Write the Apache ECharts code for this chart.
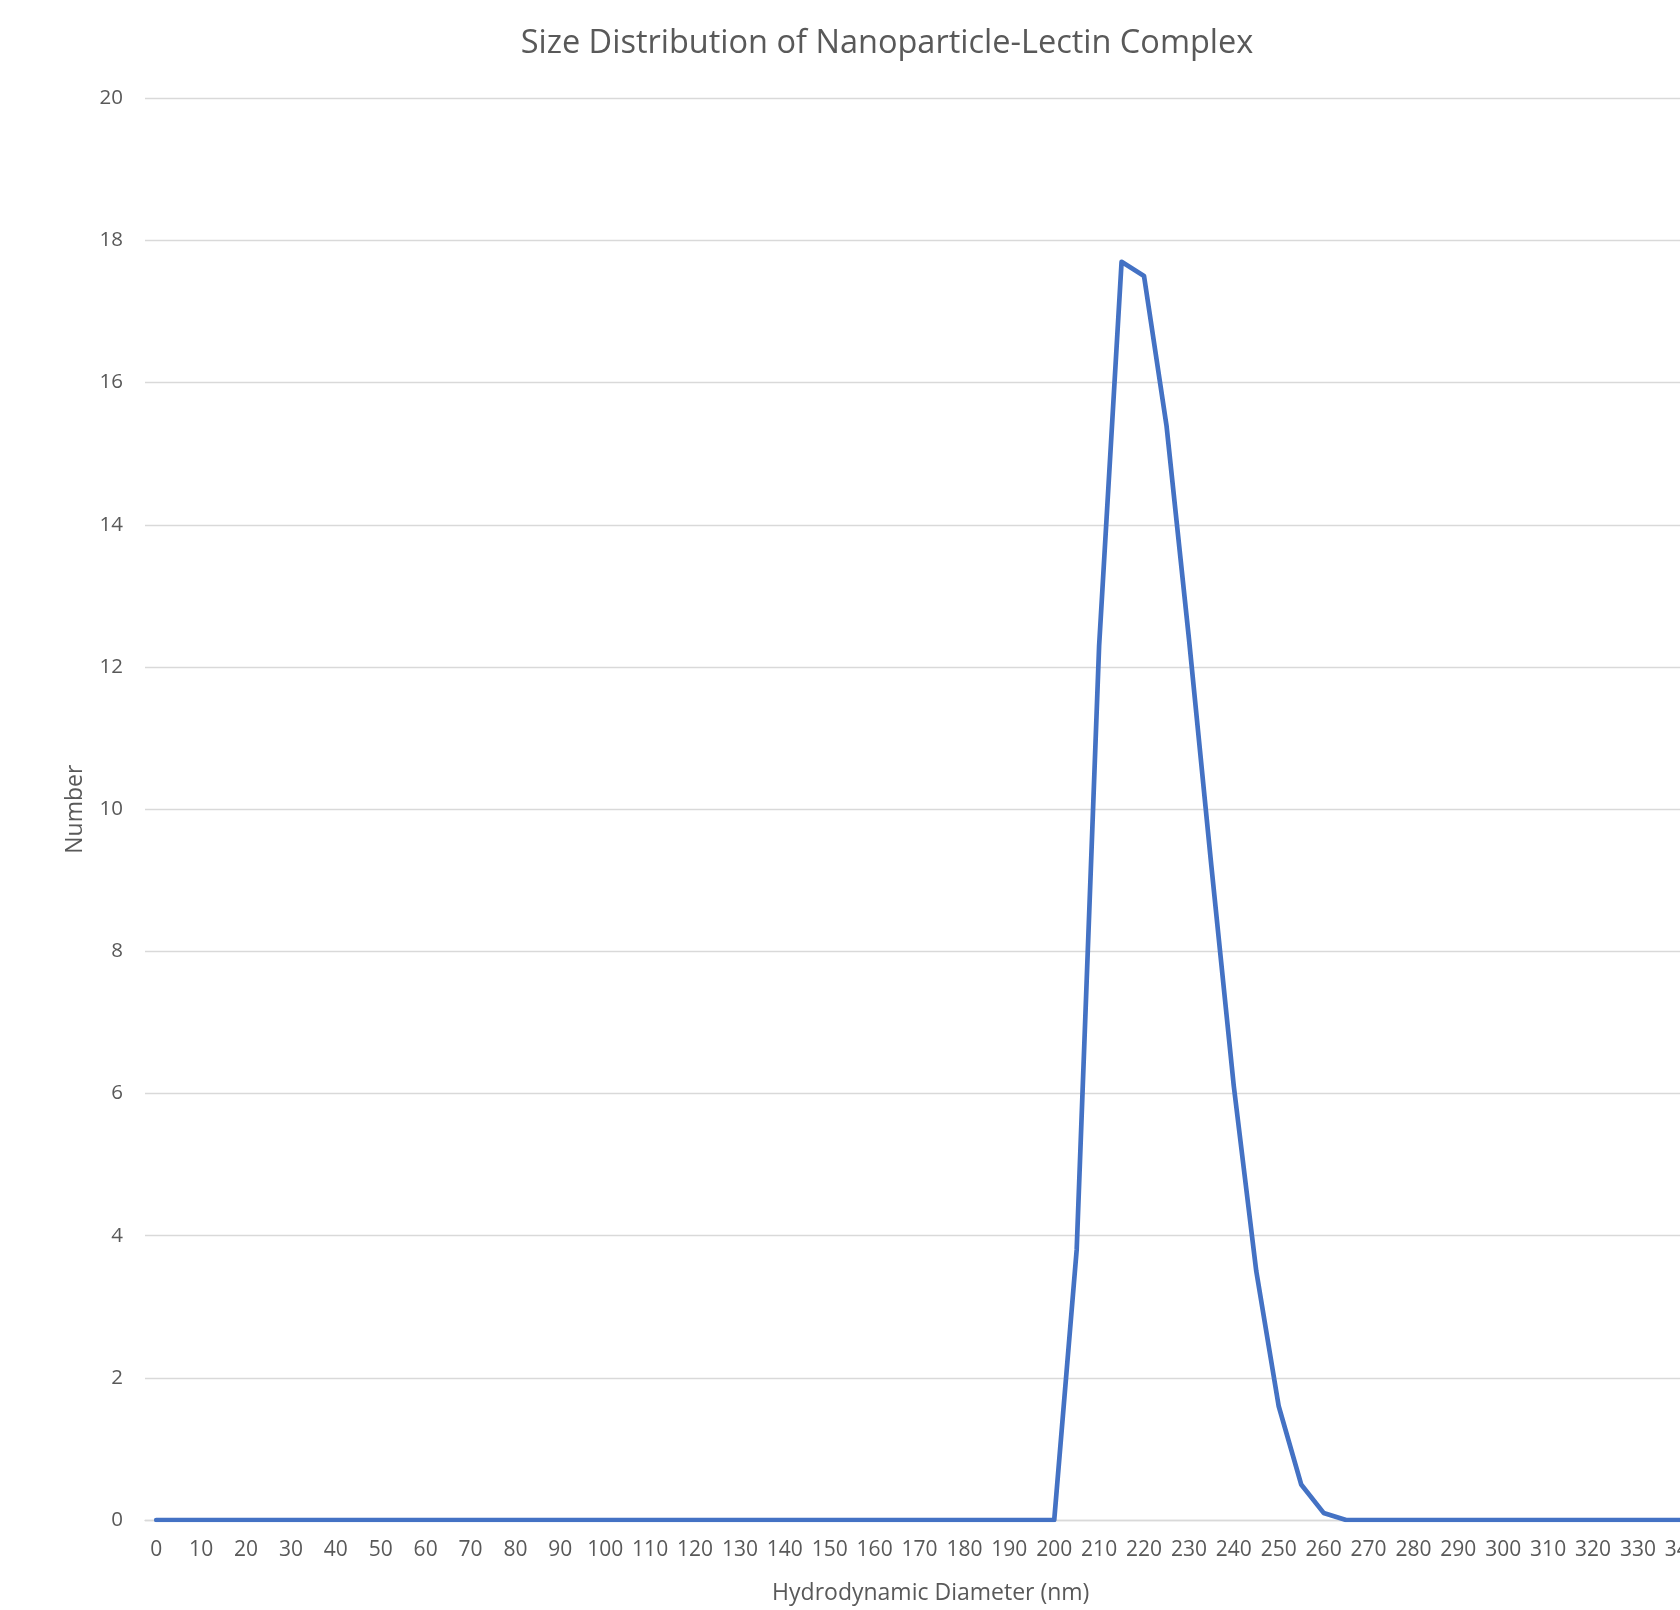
<!DOCTYPE html>
<html>
<head>
<meta charset="utf-8">
<script src="https://cdn.jsdelivr.net/npm/echarts@6/dist/echarts.min.js"></script>
<style>
html,body{margin:0;padding:0;background:#fff;overflow:hidden;width:1680px;height:1610px;}
#chart{width:1717px;height:1610px;}
</style>
</head>
<body>
<div id="chart"></div>
<script>
const titleText = 'Size Distribution of Nanoparticle-Lectin Complex';
const xAxisTitle = 'Hydrodynamic Diameter (nm)';
const yAxisTitle = 'Number';
const diameters = ['0','5','10','15','20','25','30','35','40','45','50','55','60','65','70','75','80','85','90','95',
  '100','105','110','115','120','125','130','135','140','145','150','155','160','165','170','175','180','185','190','195',
  '200','205','210','215','220','225','230','235','240','245','250','255','260','265','270','275','280','285','290','295',
  '300','305','310','315','320','325','330','335','340','345'];
const numbers = [0,0,0,0,0,0,0,0,0,0,0,0,0,0,0,0,0,0,0,0,
  0,0,0,0,0,0,0,0,0,0,0,0,0,0,0,0,0,0,0,0,
  0,3.8,12.3,17.7,17.5,15.4,12.4,9.2,6.1,3.5,1.6,0.5,0.1,0,0,0,0,0,0,0,
  0,0,0,0,0,0,0,0,0,0];
const yTicks = {min:0, max:20, interval:2};

const FONT = '"Open Sans", "Noto Sans", sans-serif';
const TXT = '#595959';
const chart = echarts.init(document.getElementById('chart'), null, {width:1717, height:1610});
chart.setOption({
  backgroundColor:'#ffffff',
  animation:false,
  graphic:[{
    type:'text', x:887, y:44,
    style:{text:titleText, fill:TXT, font:'32.5px ' + FONT, textAlign:'center', textVerticalAlign:'middle'}
  }],
  grid:{left:145, width:1571.5, top:98.3, height:1430, containLabel:false},
  xAxis:{
    type:'category', data:diameters, boundaryGap:true,
    name:xAxisTitle, nameLocation:'middle', nameGap:62,
    nameTextStyle:{color:TXT, fontSize:23, fontFamily:FONT},
    axisLine:{show:true, lineStyle:{color:'#d9d9d9', width:1.3}},
    axisTick:{show:false},
    axisLabel:{interval:1, color:TXT, fontSize:21, fontFamily:FONT, margin:20},
    splitLine:{show:false}
  },
  yAxis:{
    type:'value', min:yTicks.min, max:yTicks.max, interval:yTicks.interval,
    name:yAxisTitle, nameLocation:'middle', nameGap:58,
    nameTextStyle:{color:TXT, fontSize:23, fontFamily:FONT},
    axisLine:{show:false}, axisTick:{show:false},
    axisLabel:{color:TXT, fontSize:20.5, fontFamily:FONT, margin:22},
    splitLine:{lineStyle:{color:'#d9d9d9', width:1.3}}
  },
  series:[{
    type:'line', data:numbers, symbol:'none', smooth:false,
    lineStyle:{color:'#4472c4', width:4.7, join:'round', cap:'round'},
    itemStyle:{color:'#4472c4'}
  }]
});
</script>
</body>
</html>
